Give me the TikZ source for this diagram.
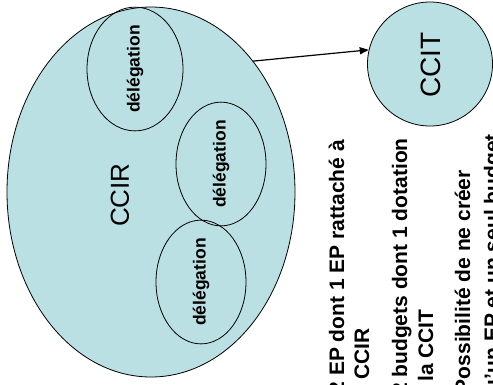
\documentclass[tikz,border=0pt]{standalone}
\usepackage{fontspec}
\setmainfont{Liberation Sans}
\usetikzlibrary{shapes.geometric,arrows.meta}
\definecolor{paleblue}{RGB}{187,224,227}
\begin{document}
\begin{tikzpicture}[x=1pt,y=-1pt,
  zone/.style={ellipse, draw=black, fill=paleblue, line width=0.8pt, inner sep=0pt},
  sub/.style={ellipse, draw=black, line width=0.8pt, inner sep=0pt, rotate=90,
    font=\fontsize{17.5}{20}\selectfont\bfseries},
  biglabel/.style={rotate=90, inner sep=0pt},
  note/.style={rotate=90, inner sep=0pt, font=\fontsize{21}{25}\selectfont\bfseries},
  link/.style={-{Triangle[length=9pt,width=7pt]}, line width=1.2pt}]
\useasboundingbox (0,0) rectangle (493,384);
\clip (0,0) rectangle (493,384);

% regional chamber with its three delegations
\node[zone, minimum width=288pt, minimum height=370pt] (ccir) at (151,192) {};
\node[biglabel, font=\fontsize{26}{30}\selectfont] (ccirlabel) at (120,195) {CCIR};
\node[sub, minimum width=98pt, minimum height=96pt] (del1) at (135,69) {délégation};
\node[sub, minimum width=92pt, minimum height=90pt] (del2) at (221,164) {délégation};
\node[sub, minimum width=110pt, minimum height=90pt] (del3) at (201,282) {délégation};

% territorial chamber
\node[zone, minimum width=125pt, minimum height=124pt] (ccit) at (430,64) {};
\node[biglabel, font=\fontsize{28}{32}\selectfont] (ccitlabel) at (431,65) {CCIT};

\draw[link] (ccir.52) -- (ccit.167);

% notes
\node[note, anchor=base east] (n1) at (344,140) {2 EP dont 1 EP rattaché à};
\node[note, anchor=base west] (n2) at (369,380) {CCIR};
\node[note, anchor=base east] (n3) at (407,138) {2 budgets dont 1 dotation};
\node[note, anchor=base west] (n4) at (433,382) {la CCIT};
\node[note, anchor=base east] (n5) at (470,170) {Possibilité de ne créer};
\node[note, anchor=base east] (n6) at (499,134) {qu'un EP et un seul budget};
\end{tikzpicture}
\end{document}
